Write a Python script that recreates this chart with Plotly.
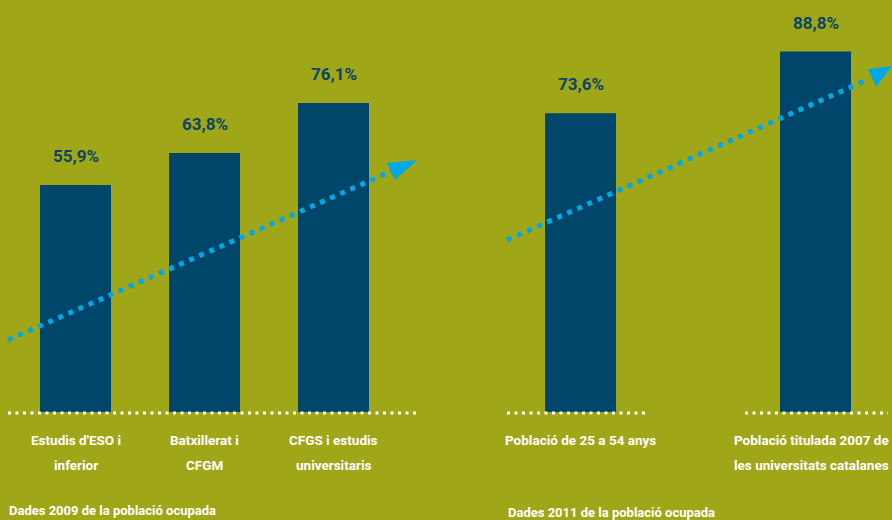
import plotly.graph_objects as go

# Data
left_categories = ["Estudis d'ESO i<br>inferior", "Batxillerat i<br>CFGM", "CFGS i estudis<br>universitaris"]
left_values = [55.9, 63.8, 76.1]
left_labels = ["55,9%", "63,8%", "76,1%"]
left_note = "Dades 2009 de la població ocupada"

right_categories = ["Població de 25 a 54 anys", "Població titulada 2007 de<br>les universitats catalanes"]
right_values = [73.6, 88.8]
right_labels = ["73,6%", "88,8%"]
right_note = "Dades 2011 de la població ocupada"

BG = "#9fa617"
BAR = "#00456a"
CYAN = "#00a8e6"
VAL = "#0b4566"
FONT = "Roboto, Liberation Sans, sans-serif"

W, H = 892, 520
def px(x):
    return x / W
def py(y):
    return 1 - y / H

fig = go.Figure()
fig.add_trace(go.Bar(x=list(range(len(left_values))), y=left_values, width=71 / 129,
                     marker=dict(color=BAR, line=dict(width=0)), xaxis="x", yaxis="y",
                     hoverinfo="skip"))
fig.add_trace(go.Bar(x=list(range(len(right_values))), y=right_values, width=0.302,
                     marker=dict(color=BAR, line=dict(width=0)), xaxis="x2", yaxis="y2",
                     hoverinfo="skip"))

ydom = [1 - 412 / H, 1]
yr = [0, 101.5]
fig.update_layout(
    width=W, height=H, margin=dict(l=0, r=0, t=0, b=0),
    paper_bgcolor=BG, plot_bgcolor=BG, showlegend=False,
    font=dict(family=FONT, color="white"),
    xaxis=dict(domain=[0, 420 / W], range=[-75.5 / 129, (420 - 75.5) / 129], visible=False),
    xaxis2=dict(domain=[500 / W, 1], range=[-80.5 / 235, (892 - 580.5) / 235], visible=False),
    yaxis=dict(domain=ydom, range=yr, visible=False),
    yaxis2=dict(domain=ydom, range=yr, visible=False, anchor="x2"),
)

valfont = dict(size=17, color=VAL, family=FONT, weight="bold")
catfont = dict(size=13.5, color="white", family=FONT, weight="bold")
ann = []
for xa, ya, cats, vals, labs, shifts in [("x", "y", left_categories, left_values, left_labels, [0, 0, 0]),
                                         ("x2", "y2", right_categories, right_values, right_labels, [0, -4])]:
    for i, (c, v, l) in enumerate(zip(cats, vals, labs)):
        ann.append(dict(x=i, y=v, xref=xa, yref=ya, text=l, showarrow=False, yanchor="middle",
                        yshift=29, font=valfont))
        for k, line in enumerate(c.split("<br>")):
            ann.append(dict(x=i, y=0, xref=xa, yref=ya, text=line, showarrow=False, yanchor="middle",
                            yshift=-28 - 25 * k, xshift=shifts[i], font=catfont))
ann.append(dict(x=px(7), y=py(510), xref="paper", yref="paper", text=left_note, showarrow=False,
                xanchor="left", yanchor="middle", font=dict(size=13, color="white", family=FONT, weight="bold")))
ann.append(dict(x=px(506), y=py(512), xref="paper", yref="paper", text=right_note, showarrow=False,
                xanchor="left", yanchor="middle", font=dict(size=13, color="white", family=FONT, weight="bold")))
fig.update_layout(annotations=ann)

shapes = []
# dotted baselines
for x0, x1 in [(8, 418), (507, 648), (745, 888)]:
    shapes.append(dict(type="line", xref="paper", yref="paper", x0=px(x0), x1=px(x1),
                       y0=py(413), y1=py(413), line=dict(color="white", width=3, dash="3px,4.5px")))
# trend arrows
shapes.append(dict(type="line", xref="paper", yref="paper", x0=px(8), y0=py(340), x1=px(392), y1=py(171),
                   line=dict(color=CYAN, width=5, dash="5px,6px")))
shapes.append(dict(type="path", xref="paper", yref="paper",
                   path=f"M {px(387)},{py(163)} L {px(417)},{py(160)} L {px(395)},{py(180)} Z",
                   fillcolor=CYAN, line=dict(width=0)))
shapes.append(dict(type="line", xref="paper", yref="paper", x0=px(507), y0=py(240), x1=px(869), y1=py(79),
                   line=dict(color=CYAN, width=5, dash="5px,6px")))
shapes.append(dict(type="path", xref="paper", yref="paper",
                   path=f"M {px(868)},{py(69)} L {px(892)},{py(66)} L {px(876)},{py(87)} Z",
                   fillcolor=CYAN, line=dict(width=0)))
fig.update_layout(shapes=shapes)

fig.write_html("out.html", config={"displayModeBar": False})

# remove the default page margin so the figure sits at the window's top-left corner
with open("out.html", "r", encoding="utf-8") as f:
    html = f.read()
html = html.replace("<head>", "<head><style>html,body{margin:0;padding:0;overflow:hidden;}</style>", 1)
with open("out.html", "w", encoding="utf-8") as f:
    f.write(html)
